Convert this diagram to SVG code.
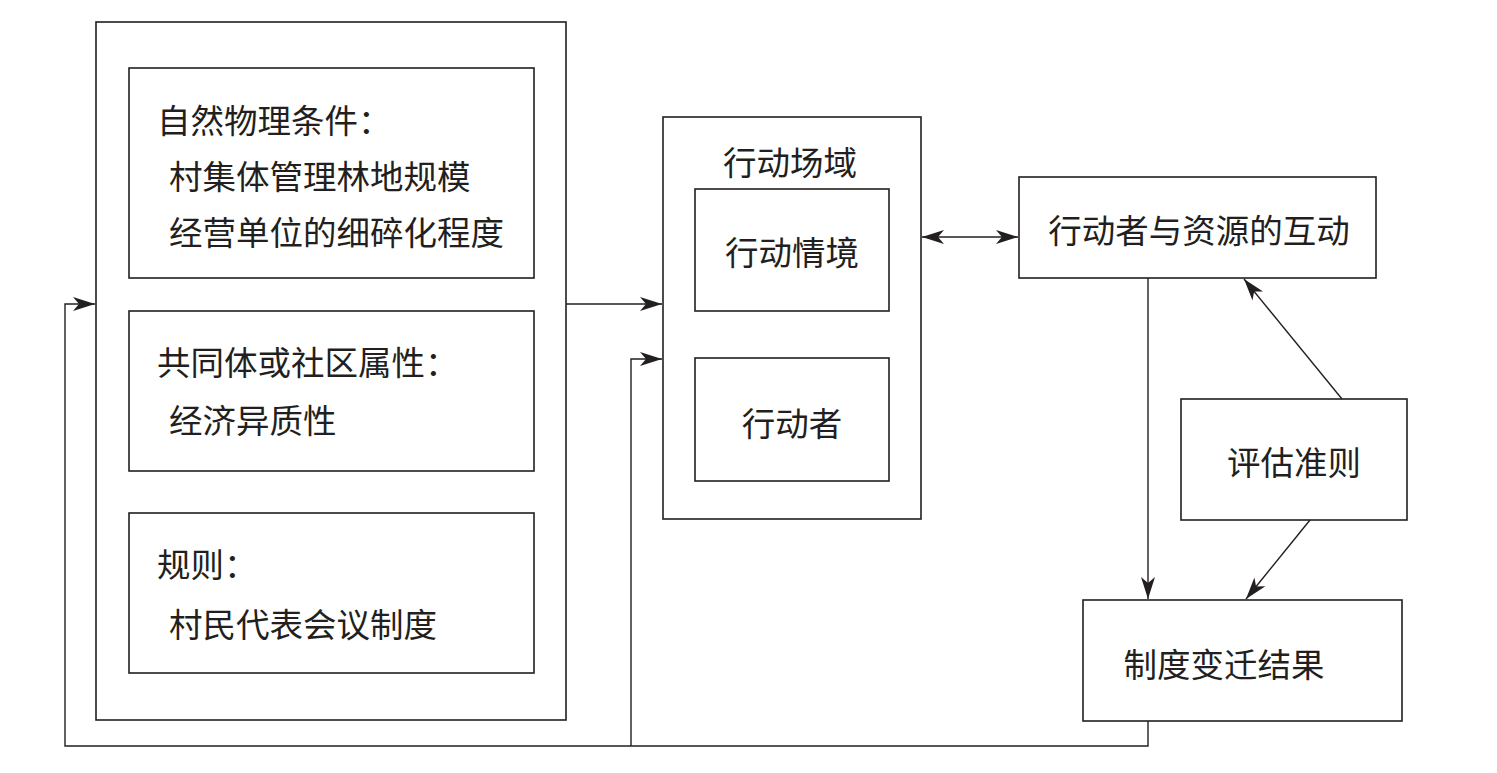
<svg xmlns="http://www.w3.org/2000/svg" width="1497" height="773" viewBox="0 0 1497 773">
<style>
.b{fill:none;stroke:#231f20;stroke-width:1.6}
.c{fill:none;stroke:#231f20;stroke-width:1.4}
text{font-family:"Noto Sans CJK SC","Noto Sans",sans-serif;font-size:33.5px;fill:#231f20;dominant-baseline:central}
.m{text-anchor:middle}
</style>
<defs>
<marker id="ah" viewBox="0 0 22 14" refX="22" refY="7" markerWidth="22" markerHeight="14" markerUnits="userSpaceOnUse" orient="auto-start-reverse">
<path d="M0,0 L22,7 L0,14 L6,7 Z" fill="#231f20"/>
</marker>
</defs>
<rect width="1497" height="773" fill="#fff"/>
<g id="outer"><rect class="b" x="96" y="22" width="470" height="698"/></g>
<g id="natural">
<rect class="b" x="129" y="68" width="405" height="210"/>
<text x="157" y="118">自然物理条件：</text>
<text x="169" y="174">村集体管理林地规模</text>
<text x="169" y="230">经营单位的细碎化程度</text>
</g>
<g id="community">
<rect class="b" x="129" y="311" width="405" height="160"/>
<text x="157" y="360">共同体或社区属性：</text>
<text x="169" y="418">经济异质性</text>
</g>
<g id="rules">
<rect class="b" x="129" y="513" width="405" height="160"/>
<text x="157" y="562">规则：</text>
<text x="169" y="622">村民代表会议制度</text>
</g>
<g id="arena">
<rect class="b" x="663" y="117" width="258" height="402"/>
<text class="m" x="790" y="160">行动场域</text>
</g>
<g id="situation">
<rect class="b" x="695" y="189" width="194" height="122"/>
<text class="m" x="792" y="250">行动情境</text>
</g>
<g id="actors">
<rect class="b" x="695" y="358" width="194" height="123"/>
<text class="m" x="792" y="421">行动者</text>
</g>
<g id="interaction">
<rect class="b" x="1019" y="177" width="357" height="101"/>
<text class="m" x="1199" y="228">行动者与资源的互动</text>
</g>
<g id="criteria">
<rect class="b" x="1181" y="399" width="226" height="121"/>
<text class="m" x="1294" y="460">评估准则</text>
</g>
<g id="outcome">
<rect class="b" x="1083" y="600" width="319" height="121"/>
<text class="m" x="1224" y="662">制度变迁结果</text>
</g>
<g id="connectors">
<line class="c" x1="566" y1="304" x2="662" y2="304" marker-end="url(#ah)"/>
<line class="c" x1="922" y1="237" x2="1018" y2="237" marker-start="url(#ah)" marker-end="url(#ah)"/>
<line class="c" x1="1148" y1="278" x2="1148" y2="599" marker-end="url(#ah)"/>
<line class="c" x1="1342" y1="399" x2="1244" y2="279" marker-end="url(#ah)"/>
<line class="c" x1="1310" y1="520" x2="1246" y2="599" marker-end="url(#ah)"/>
<polyline class="c" points="1148,721 1148,746 65,746 65,304 95,304" marker-end="url(#ah)"/>
<polyline class="c" points="631,746 631,359 662,359" marker-end="url(#ah)"/>
</g>
</svg>
